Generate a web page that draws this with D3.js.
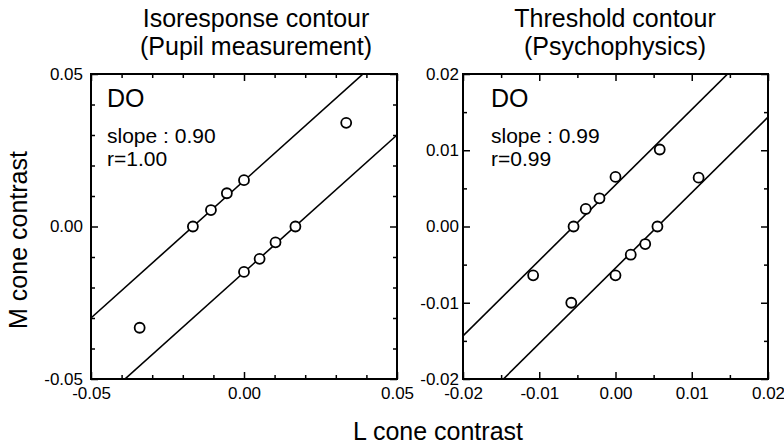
<!DOCTYPE html>

<head>
  <meta charset="utf-8">
  <title>Isoresponse vs threshold contours</title>
  <style>
    body {
      margin: 0;
      background: #fff;
    }

    * {
      font-family: 'Liberation Sans', Arial, sans-serif;
    }
  </style>
</head>

<body>
  <div id="viz"></div>

  <script src="https://d3js.org/d3.v7.min.js"></script>

  <script>
    // ---- data ----
    // left: pupil isoresponse contour (two parallel lines)
    let pupilL = [-0.0167, -0.0108, -0.0056, 0.0, -0.0341, 0.0334, 0.0, 0.0051, 0.0103, 0.0168];
    let pupilM = [0.0, 0.0054, 0.0109, 0.0152, -0.0332, 0.0340, -0.0149, -0.0106, -0.0052, 0.0];
    let pupilFitSlope = 0.90;
    let pupilFitIntercepts = [0.0150, -0.0150];

    // right: psychophysical threshold contour
    let psyL = [-0.0108, -0.0055, -0.0039, -0.0021, 0.0, 0.0058, -0.0058, 0.0, 0.0020, 0.0039, 0.0055, 0.0109];
    let psyM = [-0.0064, 0.0, 0.0023, 0.0037, 0.0065, 0.0101, -0.0100, -0.0064, -0.0037, -0.0023, 0.0, 0.0064];
    let psyFitSlope = 0.99;
    let psyFitIntercepts = [0.00545, -0.00545];

    let leftTicks = [-0.05, 0.00, 0.05];
    let leftMinor = [-0.04, -0.03, -0.02, -0.01, 0.01, 0.02, 0.03, 0.04];
    let rightTicks = [-0.02, -0.01, 0.00, 0.01, 0.02];
    let rightMinor = [-0.015, -0.005, 0.005, 0.015];

    let width = 784, height = 445;

    let svg = d3.select('#viz')
      .append('svg')
      .attr('width', width)
      .attr('height', height);

    let panels = [
      {
        left: 91, right: 397, top: 74, bottom: 379,
        domain: [-0.05, 0.05],
        ticks: leftTicks, minor: leftMinor,
        xs: pupilL, ys: pupilM,
        slope: pupilFitSlope, intercepts: pupilFitIntercepts,
        title: ['Isoresponse contour', '(Pupil measurement)'], titleX: 256,
        subject: 'DO', slopeText: 'slope : 0.90', rText: 'r=1.00',
        textX: 107, yPad: 8
      },
      {
        left: 463, right: 768, top: 74, bottom: 379,
        domain: [-0.02, 0.02],
        ticks: rightTicks, minor: rightMinor,
        xs: psyL, ys: psyM,
        slope: psyFitSlope, intercepts: psyFitIntercepts,
        title: ['Threshold contour', '(Psychophysics)'], titleX: 615,
        subject: 'DO', slopeText: 'slope : 0.99', rText: 'r=0.99',
        textX: 491, yPad: 4
      }
    ];

    panels.forEach(drawPanel);

    // shared axis titles
    svg.append('text')
      .attr('transform', 'translate(27, 240) rotate(-90)')
      .attr('text-anchor', 'middle')
      .style('font-size', '25px')
      .text('M cone contrast');

    svg.append('text')
      .attr('x', 438)
      .attr('y', 440)
      .attr('text-anchor', 'middle')
      .style('font-size', '25px')
      .text('L cone contrast');

    function drawPanel(p) {
      let x = d3.scaleLinear().domain(p.domain).range([p.left, p.right]);
      let y = d3.scaleLinear().domain(p.domain).range([p.bottom, p.top]);
      let fmt = d => d.toFixed(2);

      let g = svg.append('g');

      // title
      g.append('text')
        .attr('x', p.titleX)
        .attr('text-anchor', 'middle')
        .style('font-size', '25px')
        .selectAll('tspan')
        .data(p.title)
        .join('tspan')
        .attr('x', p.titleX)
        .attr('y', (d, i) => 27 + i * 28)
        .text(d => d);

      // clip for the fit lines
      let clipId = 'clip' + p.left;
      svg.append('clipPath')
        .attr('id', clipId)
        .append('rect')
        .attr('x', p.left)
        .attr('y', p.top)
        .attr('width', p.right - p.left)
        .attr('height', p.bottom - p.top);

      let line = d3.line().x(d => x(d[0])).y(d => y(d[1]));
      g.append('g')
        .attr('clip-path', `url(#${clipId})`)
        .selectAll('path')
        .data(p.intercepts)
        .join('path')
        .attr('d', b => line(p.domain.map(v => [v, p.slope * v + b])))
        .attr('fill', 'none')
        .attr('stroke', '#000')
        .attr('stroke-width', 1.6);

      // ticks on all four sides, pointing inwards
      let sides = [
        [d3.axisBottom(x), `translate(0, ${p.bottom})`],
        [d3.axisTop(x), `translate(0, ${p.top})`],
        [d3.axisLeft(y), `translate(${p.left}, 0)`],
        [d3.axisRight(y), `translate(${p.right}, 0)`]
      ];
      sides.forEach(([axis, tr]) => {
        g.append('g')
          .attr('transform', tr)
          .call(axis.tickValues(p.minor).tickSize(-4).tickFormat(''))
          .call(a => a.select('.domain').remove())
          .selectAll('line').attr('stroke-width', 1.5);
        g.append('g')
          .attr('transform', tr)
          .call(axis.tickValues(p.ticks).tickSize(-7).tickFormat(''))
          .call(a => a.select('.domain').remove())
          .selectAll('line').attr('stroke-width', 1.5);
      });

      // tick labels
      g.append('g')
        .attr('transform', `translate(0, ${p.bottom})`)
        .call(d3.axisBottom(x).tickValues(p.ticks).tickSize(0).tickPadding(8).tickFormat(fmt))
        .call(a => a.select('.domain').remove())
        .attr('font-family', null)
        .attr('font-size', 17);

      g.append('g')
        .attr('transform', `translate(${p.left}, 0)`)
        .call(d3.axisLeft(y).tickValues(p.ticks).tickSize(0).tickPadding(p.yPad).tickFormat(fmt))
        .call(a => a.select('.domain').remove())
        .attr('font-family', null)
        .attr('font-size', 17);

      // frame
      g.append('rect')
        .attr('x', p.left)
        .attr('y', p.top)
        .attr('width', p.right - p.left)
        .attr('height', p.bottom - p.top)
        .attr('fill', 'none')
        .attr('stroke', '#000')
        .attr('stroke-width', 2);

      // data points
      g.append('g')
        .selectAll('circle')
        .data(p.xs.map((v, i) => [v, p.ys[i]]))
        .join('circle')
        .attr('cx', d => x(d[0]))
        .attr('cy', d => y(d[1]))
        .attr('r', 5)
        .attr('fill', '#fff')
        .attr('stroke', '#000')
        .attr('stroke-width', 1.8);

      // annotations
      g.append('text')
        .attr('x', p.textX)
        .attr('y', 107)
        .style('font-size', '25px')
        .text(p.subject);

      g.append('text')
        .attr('x', p.textX)
        .attr('y', 143)
        .style('font-size', '21px')
        .text(p.slopeText);

      g.append('text')
        .attr('x', p.textX)
        .attr('y', 166)
        .style('font-size', '21px')
        .text(p.rText);
    }
  </script>
</body>

</html>
